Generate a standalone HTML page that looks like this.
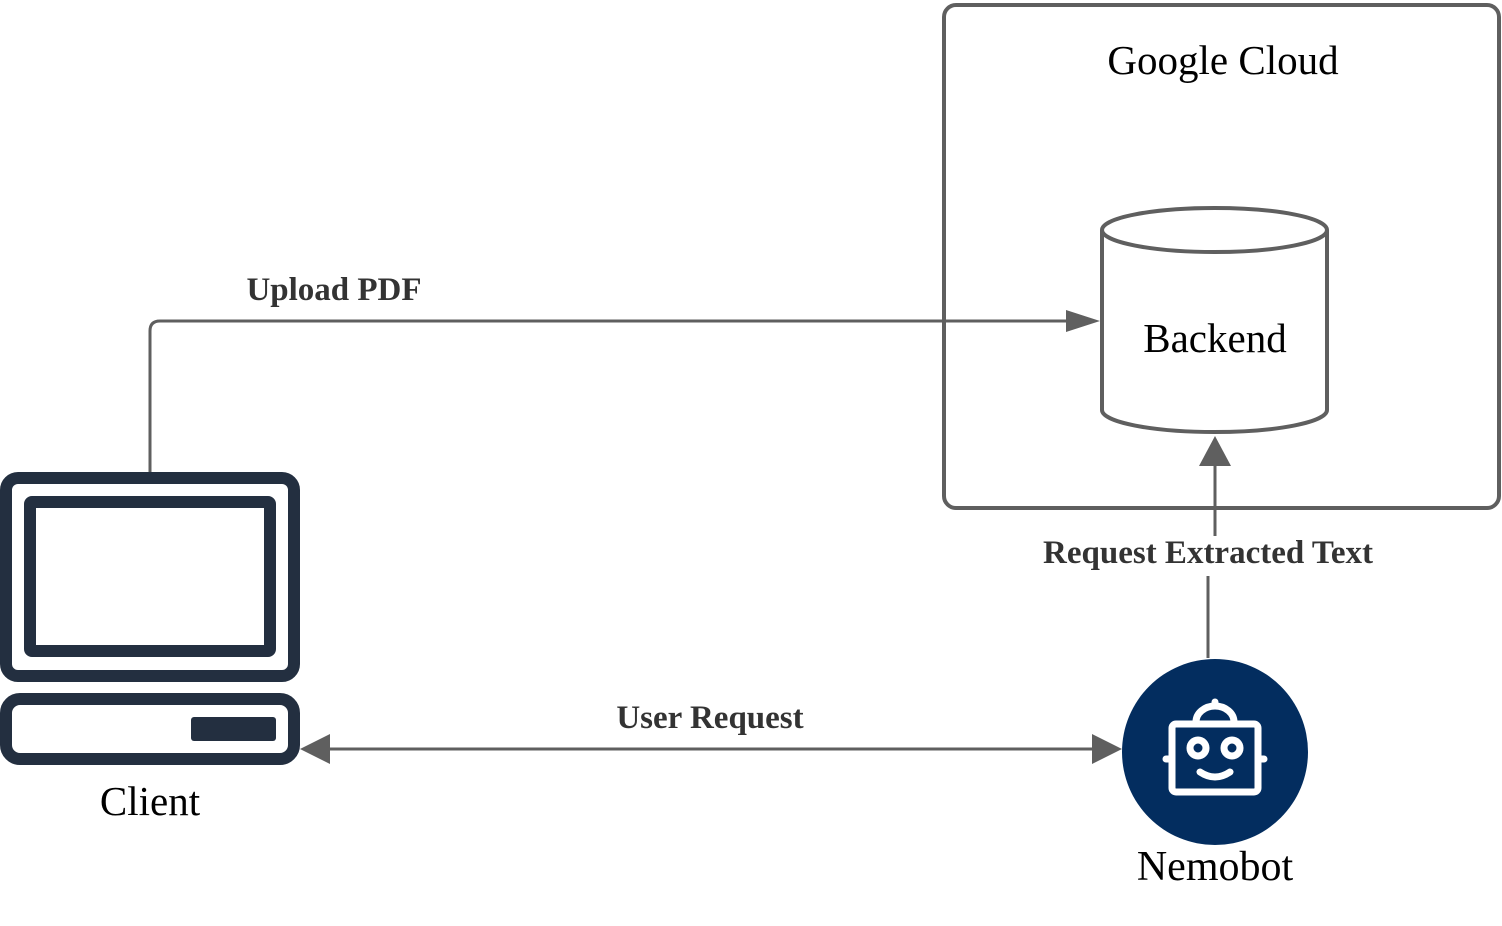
<!DOCTYPE html>
<html><head><style>body{margin:0;background:#fff}svg{display:block}</style></head><body>
<svg width="1502" height="926" viewBox="0 0 1502 926" xmlns="http://www.w3.org/2000/svg">
<rect x="944" y="5" width="555" height="503" rx="12" fill="none" stroke="#5f5f5f" stroke-width="4"/>
<text x="1223" y="74" font-family="Liberation Serif" font-size="41" text-anchor="middle" fill="#000">Google Cloud</text>
<path d="M1102 230 V410 A112.5 22 0 0 0 1327 410 V230" fill="#fff" stroke="#5f5f5f" stroke-width="4"/>
<ellipse cx="1214.5" cy="230" rx="112.5" ry="22" fill="#fff" stroke="#5f5f5f" stroke-width="4"/>
<text x="1215" y="352" font-family="Liberation Serif" font-size="41" text-anchor="middle" fill="#000">Backend</text>
<g stroke="#5f5f5f" stroke-width="3" fill="none">
<path d="M150 472 V331 Q150 321 160 321 H1068"/>
<path d="M1215 536 V465"/>
<path d="M1208 576 V658"/>
<path d="M328 749 H1094"/>
</g>
<g fill="#5f5f5f">
<polygon points="1100,321 1066,310 1066,332"/>
<polygon points="1215,436 1199,466 1231,466"/>
<polygon points="300,749 330,734 330,764"/>
<polygon points="1122,749 1092,734 1092,764"/>
</g>
<g font-family="Liberation Serif" font-weight="bold" font-size="33" fill="#333">
<text x="334" y="300" text-anchor="middle">Upload PDF</text>
<text x="1208" y="563" text-anchor="middle">Request Extracted Text</text>
<text x="710" y="728" text-anchor="middle">User Request</text>
</g>
<g fill="none" stroke="#232f40" stroke-width="12">
<rect x="6" y="478" width="288" height="198" rx="12"/>
<rect x="30" y="502" width="240" height="149" rx="2"/>
<rect x="6" y="699" width="288" height="60" rx="14"/>
</g>
<rect x="191" y="717" width="85" height="24" rx="3" fill="#232f40"/>
<text x="150" y="815" font-family="Liberation Serif" font-size="41" text-anchor="middle" fill="#000">Client</text>
<circle cx="1215" cy="752" r="93" fill="#032d5f"/>
<g fill="none" stroke="#fff" stroke-width="7" stroke-linecap="round">
<rect x="1172" y="724" width="86" height="68" rx="4"/>
<path d="M1196 722 A19 16 0 0 1 1234 722"/>
<circle cx="1198" cy="748" r="8"/>
<circle cx="1232" cy="748" r="8"/>
<path d="M1200 772 Q1215 782 1230 772"/>
<path d="M1166 759 H1170 M1260 759 H1264 M1215 702 V705"/>
</g>
<text x="1215" y="880" font-family="Liberation Serif" font-size="42" text-anchor="middle" fill="#000">Nemobot</text>
</svg>
</body></html>
